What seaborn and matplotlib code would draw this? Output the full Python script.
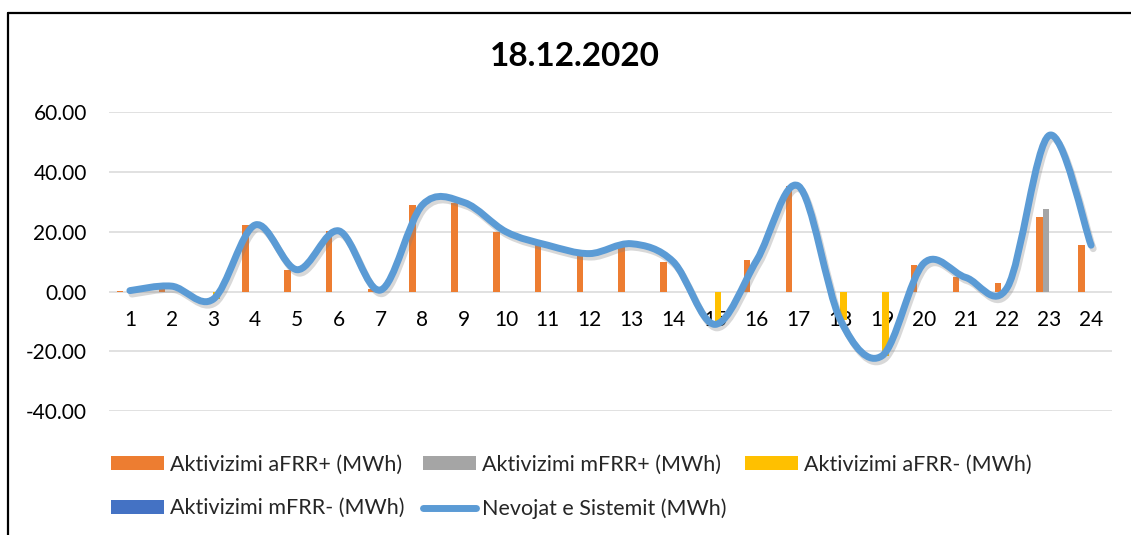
import numpy as np
import pandas as pd
import seaborn as sns
import matplotlib
matplotlib.use("Agg")
import matplotlib.pyplot as plt
from matplotlib.path import Path
from matplotlib.patches import PathPatch, Patch
from matplotlib.lines import Line2D
import matplotlib.patheffects as pe

# ---------------- data ----------------
hours = [str(h) for h in range(1, 25)]
afrr_plus = [0.3, 1.5, 0, 22.3, 7.3, 20.3, 1.0, 29.0, 29.8, 20.0, 15.5, 12.7,
             16.0, 10.0, 0, 10.5, 35.3, 0, 0, 9.0, 4.7, 2.7, 24.8, 15.5]
mfrr_plus = [0, 0, 0, 0, 0, 0, 0, 0, 0, 0, 0, 0,
             0, 0, 0, 0, 0, 0, 0, 0, 0, 0, 27.5, 0]
afrr_minus = [0, 0, -2.5, 0, 0, 0, 0, 0, 0, 0, 0, 0,
              0, 0, -11.0, 0, 0, -9.5, -21.5, 0, 0, 0, 0, 0]
mfrr_minus = [0] * 24
nevojat = [0.3, 1.8, -2.5, 22.3, 7.3, 20.3, 0.5, 29.0, 29.8, 20.0, 15.5, 12.7,
           16.0, 10.0, -11.0, 10.5, 35.3, -9.5, -21.5, 9.5, 4.7, 1.5, 52.3, 15.5]

series_names = ["Aktivizimi aFRR+ (MWh)", "Aktivizimi mFRR+ (MWh)",
                "Aktivizimi aFRR- (MWh)", "Aktivizimi mFRR- (MWh)"]
line_name = "Nevojat e Sistemit (MWh)"
title = "18.12.2020"
yticks = [-40, -20, 0, 20, 40, 60]

colors = ["#ED7D31", "#A5A5A5", "#FFC000", "#4472C4"]
line_color = "#5B9BD5"

df = pd.DataFrame({
    "Ora": hours * 4,
    "Vlera": afrr_plus + mfrr_plus + afrr_minus + mfrr_minus,
    "Seria": sum([[n] * 24 for n in series_names], []),
})

# ---------------- figure ----------------
sns.set_theme(style="white")
plt.rcParams["font.family"] = ["Lato", "DejaVu Sans"]

W, H = 1131, 535
fig = plt.figure(figsize=(W / 100, H / 100), dpi=100)
fig.patch.set_facecolor("white")

ax = fig.add_axes([109 / W, 1 - 411 / H, 1003 / W, (411 - 112.3) / H])

sns.barplot(data=df, x="Ora", y="Vlera", hue="Seria", order=hours,
            hue_order=series_names, palette=colors, width=0.62, gap=0,
            saturation=1, linewidth=0, legend=False, ax=ax, zorder=2)

# smoothed line (Excel-style Catmull-Rom bezier through the data points)
xs = np.arange(len(nevojat), dtype=float)
ys = np.array(nevojat, dtype=float)
verts = [(xs[0], ys[0])]
codes = [Path.MOVETO]
n = len(xs)
for i in range(n - 1):
    p0 = (xs[max(i - 1, 0)], ys[max(i - 1, 0)])
    p1 = (xs[i], ys[i])
    p2 = (xs[i + 1], ys[i + 1])
    p3 = (xs[min(i + 2, n - 1)], ys[min(i + 2, n - 1)])
    c1 = (p1[0] + (p2[0] - p0[0]) / 6, p1[1] + (p2[1] - p0[1]) / 6)
    c2 = (p2[0] - (p3[0] - p1[0]) / 6, p2[1] - (p3[1] - p1[1]) / 6)
    verts += [c1, c2, p2]
    codes += [Path.CURVE4] * 3
curve = PathPatch(Path(verts, codes), facecolor="none", edgecolor=line_color,
                  linewidth=5.0, capstyle="round", joinstyle="round", zorder=5)
curve.set_path_effects([pe.SimpleLineShadow(offset=(1.5, -2.5), shadow_color="gray", alpha=0.3),
                        pe.Normal()])
ax.add_patch(curve)

ax.set_xlim(-0.5, 23.5)
ax.set_ylim(-40, 60)
ax.set_yticks(yticks)
ax.set_yticklabels([f"{v:.2f}" for v in yticks])
ax.yaxis.grid(True, color="#D9D9D9", linewidth=1.1, zorder=0)
ax.set_axisbelow(True)
for s in ["top", "right", "left"]:
    ax.spines[s].set_visible(False)
ax.spines["bottom"].set_position(("data", 0))
ax.spines["bottom"].set_visible(False)
ax.tick_params(axis="x", length=0, pad=13, labelsize=15, colors="black")
ax.tick_params(axis="y", length=0, pad=16, labelsize=15, colors="black")
ax.set_xlabel("")
ax.set_ylabel("")

fig.text(575 / W, 1 - 57 / H, title, ha="center", va="center",
         fontsize=24, fontweight="bold", color="black")

# legend
h_af = Patch(facecolor=colors[0], edgecolor="none")
h_mf = Patch(facecolor=colors[1], edgecolor="none")
h_am = Patch(facecolor=colors[2], edgecolor="none")
h_mm = Patch(facecolor=colors[3], edgecolor="none")
h_ln = Line2D([0], [0], color=line_color, linewidth=5.0, solid_capstyle="round")
handles = [h_af, h_mm, h_mf, h_ln, h_am]
labels = [series_names[0], series_names[3], series_names[1], line_name, series_names[2]]
fig.legend(handles, labels, ncol=3, loc="upper left",
           bbox_to_anchor=(102 / W, 1 - 446 / H), frameon=False,
           fontsize=15.5, handlelength=2.5, handleheight=0.65, handletextpad=0.25,
           columnspacing=0.85, labelspacing=1.1, borderaxespad=0)

# outer frame (left and top border lines)
fig.add_artist(Line2D([7.5 / W, 7.5 / W], [0, 1 - 13 / H], transform=fig.transFigure,
                      color="black", linewidth=1.6))
fig.add_artist(Line2D([7.5 / W, 1], [1 - 13 / H, 1 - 13 / H], transform=fig.transFigure,
                      color="black", linewidth=1.6))

fig.savefig("out.png", dpi=100)
